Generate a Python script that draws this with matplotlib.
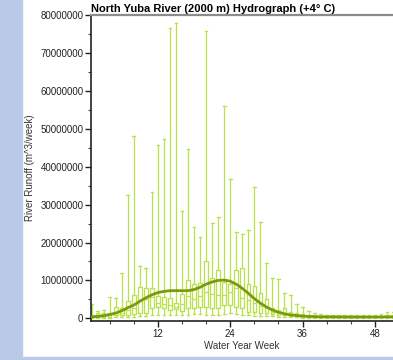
import numpy as np
import matplotlib
matplotlib.use("Agg")
import matplotlib.pyplot as plt
from matplotlib.patches import Rectangle
from matplotlib.ticker import MultipleLocator, FuncFormatter

plt.rcParams['font.family'] = ['Liberation Sans', 'DejaVu Sans']

# weekly runoff statistics, millions of m^3/week
weeks = list(range(1, 53))
whis_hi = [3.8, 2.0, 2.2, 5.5, 5.3, 11.9, 32.6, 48.2, 13.8, 13.2, 33.4, 45.8, 47.3,
           76.6, 77.8, 28.2, 44.6, 24.2, 21.4, 75.9, 25.1, 26.8, 55.9, 36.7, 22.9, 22.3,
           23.3, 34.6, 25.3, 14.5, 10.6, 10.3, 6.6, 6.2, 3.7, 3.1, 1.9, 1.5, 1.2, 1.0,
           0.9, 0.9, 0.8, 0.8, 0.9, 0.8, 1.0, 1.0, 1.1, 1.6, 1.8, 1.3]
q3 = [0.9, 1.4, 1.3, 1.3, 2.9, 2.6, 4.5, 6.2, 8.2, 7.9, 7.9, 6.0, 5.5,
      5.3, 4.0, 6.5, 10.1, 9.0, 9.2, 15.0, 10.6, 12.8, 9.7, 9.0, 12.8, 13.2,
      9.1, 8.4, 6.6, 5.0, 2.6, 2.2, 2.6, 1.8, 1.4, 1.1, 0.9, 0.8, 0.7, 0.7,
      0.6, 0.6, 0.6, 0.6, 0.6, 0.6, 0.6, 0.7, 0.7, 0.8, 0.9, 0.8]
median = [0.5, 0.8, 0.8, 0.8, 1.5, 1.5, 2.2, 2.6, 4.8, 5.0, 5.5, 4.0, 3.7,
          3.5, 3.1, 3.8, 6.0, 5.1, 5.9, 6.9, 6.3, 6.2, 6.2, 7.0, 7.9, 5.3,
          4.8, 4.0, 3.3, 2.6, 1.8, 1.5, 1.5, 1.1, 0.9, 0.7, 0.6, 0.5, 0.45, 0.4,
          0.4, 0.4, 0.4, 0.4, 0.4, 0.4, 0.4, 0.45, 0.45, 0.5, 0.5, 0.5]
q1 = [0.3, 0.4, 0.4, 0.4, 0.9, 0.9, 0.9, 1.2, 1.3, 1.5, 2.6, 2.9, 2.6,
      2.2, 2.4, 2.0, 2.6, 2.8, 3.1, 3.1, 2.8, 2.6, 3.5, 3.5, 3.1, 2.6,
      1.8, 1.8, 1.3, 1.3, 1.2, 0.9, 0.9, 0.6, 0.5, 0.4, 0.35, 0.3, 0.25, 0.25,
      0.25, 0.25, 0.25, 0.25, 0.25, 0.25, 0.25, 0.25, 0.25, 0.3, 0.3, 0.3]
whis_lo = [0.1, 0.2, 0.2, 0.2, 0.3, 0.3, 0.3, 0.4, 0.5, 0.6, 0.8, 0.9, 0.9,
           0.8, 0.9, 0.8, 1.0, 1.1, 1.2, 0.9, 1.0, 1.0, 1.2, 1.3, 1.2, 1.0,
           0.8, 0.7, 0.6, 0.6, 0.5, 0.4, 0.4, 0.3, 0.25, 0.2, 0.15, 0.1, 0.1, 0.1,
           0.1, 0.1, 0.1, 0.1, 0.1, 0.1, 0.1, 0.1, 0.1, 0.1, 0.1, 0.1]
mean_runoff = [0.4, 0.5, 0.7, 1.0, 1.4, 2.0, 2.8, 3.5, 4.5, 5.4, 6.2, 6.8, 7.1,
               7.3, 7.3, 7.3, 7.3, 7.6, 8.2, 9.0, 9.6, 10.0, 10.1, 9.8, 9.0, 7.9,
               6.6, 5.2, 4.0, 3.0, 2.2, 1.6, 1.2, 0.9, 0.75, 0.6, 0.5, 0.45, 0.4, 0.4,
               0.4, 0.38, 0.37, 0.36, 0.35, 0.35, 0.35, 0.35, 0.36, 0.37, 0.38, 0.38]

scale = 1e6
stats = []
for i in range(len(weeks)):
    stats.append(dict(whislo=whis_lo[i] * scale, q1=q1[i] * scale, med=median[i] * scale,
                      q3=q3[i] * scale, whishi=whis_hi[i] * scale, fliers=[]))

box_col = '#b9e24a'
fig = plt.figure(figsize=(3.93, 3.6), dpi=100)
fig.patches.append(Rectangle((0, 0), 22 / 393, 1, transform=fig.transFigure,
                             color='#b9c9e7', zorder=0))
fig.patches.append(Rectangle((0, 0), 1, 3 / 360, transform=fig.transFigure,
                             color='#b9c9e7', zorder=0))

ax = fig.add_axes([91 / 393, 39 / 360, 1 - 91 / 393, 306 / 360])
line_kw = dict(color=box_col, linewidth=0.9)
ax.bxp(stats, positions=weeks, widths=0.6, capwidths=0.45, showfliers=False,
       manage_ticks=False,
       boxprops=line_kw, whiskerprops=line_kw, capprops=line_kw,
       medianprops=dict(color=box_col, linewidth=0.9))
ax.plot(weeks, np.array(mean_runoff) * scale, color='#7a9a0c', linewidth=2.0, zorder=5)

ax.set_xlim(0.9, 51.0)
ax.set_ylim(-700000, 80000000)
ax.xaxis.set_major_locator(MultipleLocator(12))
ax.xaxis.set_minor_locator(MultipleLocator(4))
ax.yaxis.set_major_locator(MultipleLocator(10000000))
ax.yaxis.set_minor_locator(MultipleLocator(5000000))
ax.xaxis.set_major_formatter(FuncFormatter(lambda v, p: f"{v:.0f}"))
ax.yaxis.set_major_formatter(FuncFormatter(lambda v, p: f"{v:.0f}"))
ax.tick_params(which='major', length=4, width=1, labelsize=7, pad=1.5, colors='#222222')
ax.tick_params(which='minor', length=2.5, width=0.8, colors='#444444')

ax.spines['right'].set_visible(False)
ax.spines['top'].set_color('#8c8c8c')
ax.spines['top'].set_linewidth(1.6)
for s in ['left', 'bottom']:
    ax.spines[s].set_color('#222222')
    ax.spines[s].set_linewidth(1.2)

ax.set_title("North Yuba River (2000 m) Hydrograph (+4° C)", loc='left', fontsize=8,
             fontweight='bold', pad=2)
ax.set_xlabel("Water Year Week", fontsize=7, color='#333333', labelpad=2)
ax.set_ylabel("River Runoff (m^3/week)", fontsize=7, color='#333333', labelpad=4)

fig.savefig("out.png", dpi=100)
